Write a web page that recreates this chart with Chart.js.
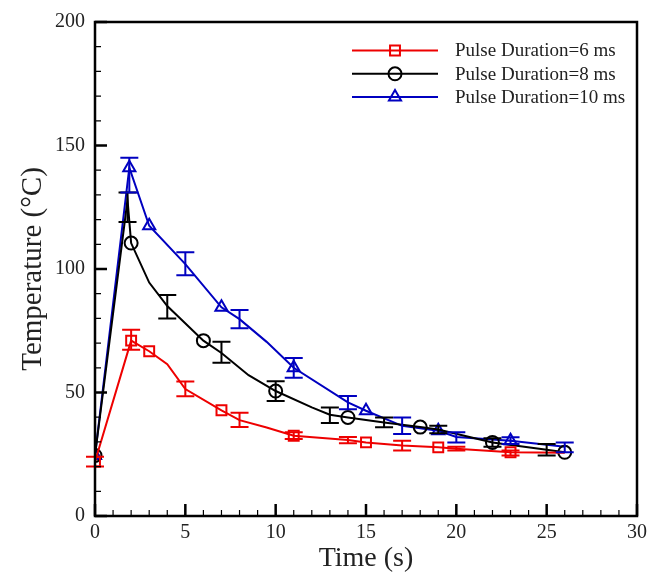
<!DOCTYPE html>
<html><head><meta charset="utf-8">
<script src="https://cdn.jsdelivr.net/npm/chart.js@4.4.0/dist/chart.umd.min.js"></script>
<style>html,body{margin:0;padding:0;background:#fff}#wrap{width:662px;height:575px}</style>
</head><body><div id="wrap"><canvas id="c" width="662" height="575"></canvas></div>
<script>
// ---- data ----
const seriesNames = ['Pulse Duration=6 ms', 'Pulse Duration=8 ms', 'Pulse Duration=10 ms'];
const xTicks = [0, 5, 10, 15, 20, 25, 30];
const yTicks = [0, 50, 100, 150, 200];

const redTime    = [0, 2, 3, 4, 5, 7, 8, 9.5, 11, 14, 15, 17, 19, 20, 23, 26];
const redTemp    = [22, 71, 66.7, 61.5, 51.4, 42.8, 38.8, 35.8, 32.5, 30.8, 29.8, 28.5, 27.8, 27.2, 25.8, 25.6];
const redErrLow  = [20, 67.3, null, null, 48.5, null, 36, null, 31.2, 29.5, null, 26.5, null, 26.5, 24.5, null];
const redErrHigh = [24, 75.4, null, null, 54.5, null, 41.8, null, 33.9, 32, null, 30.5, null, 28, 26.5, null];
const redMarkerTimes = [0, 2, 3, 7, 11, 15, 19, 23];

const blackTime    = [0, 1.8, 2, 3, 4, 6, 7, 8.5, 10, 12, 13, 14, 16, 18, 19, 22, 25, 26];
const blackTemp    = [24.5, 128, 110.5, 94.5, 85, 71, 66, 57, 50.6, 44, 41, 39.9, 37.9, 36, 35, 29.8, 26.8, 25.8];
const blackErrLow  = [null, 119, null, null, 80, null, 62, null, 46.6, null, 37.7, null, 35.9, null, 33.5, 28, 24.5, null];
const blackErrHigh = [null, 131, null, null, 89.5, null, 70.5, null, 54.6, null, 43.9, null, 39.9, null, 36.5, 31.5, 29.2, null];
const blackMarkerTimes = [0, 2, 6, 10, 14, 18, 22, 26];

const blueTime    = [0, 1.9, 3, 5, 7, 8, 9.5, 11, 14, 15, 17, 19, 20, 23, 26];
const blueTemp    = [24.5, 141, 117.5, 102, 84.5, 79.7, 70.5, 60, 46, 42.6, 36.5, 34.5, 32, 30.5, 28];
const blueErrLow  = [null, 131, null, 97.5, null, 76, null, 56, 43.2, null, 33.2, null, 29.8, 29.2, 25.8];
const blueErrHigh = [null, 145, null, 106.8, null, 83.4, null, 64, 48.6, null, 39.9, null, 33.9, 31.9, 29.8];
const blueMarkerTimes = [0, 1.9, 3, 7, 11, 15, 19, 23];

// ---- build ----
const FONT = 'Liberation Serif, Times New Roman, serif';
function makeSet(label, time, temp, lo, hi, markers, color, style, radius) {
  return {
    label: label,
    data: time.map((t, i) => ({x: t, y: temp[i]})),
    errLow: lo, errHigh: hi,
    borderColor: color, borderWidth: 2, fill: false,
    tension: 0,
    pointStyle: style,
    pointRadius: ctx => markers.includes(time[ctx.dataIndex]) ? radius : 0,
    pointHoverRadius: 0,
    pointBorderColor: color, pointBackgroundColor: 'rgba(0,0,0,0)', pointBorderWidth: 2,
    legendRadius: radius
  };
}
const datasets = [
  makeSet(seriesNames[0], redTime, redTemp, redErrLow, redErrHigh, redMarkerTimes, '#ee0000', 'rect', 7),
  makeSet(seriesNames[1], blackTime, blackTemp, blackErrLow, blackErrHigh, blackMarkerTimes, '#000000', 'circle', 6.5),
  makeSet(seriesNames[2], blueTime, blueTemp, blueErrLow, blueErrHigh, blueMarkerTimes, '#0000c0', 'triangle', 7)
];

const errorBars = {
  id: 'errorBars',
  afterDatasetsDraw(chart) {
    const ctx = chart.ctx, xs = chart.scales.x, ys = chart.scales.y;
    ctx.save();
    chart.data.datasets.forEach(ds => {
      ctx.strokeStyle = ds.borderColor; ctx.lineWidth = 2;
      ds.data.forEach((p, i) => {
        const lo = ds.errLow[i], hi = ds.errHigh[i];
        if (lo == null || hi == null) return;
        const xp = xs.getPixelForValue(p.x), yl = ys.getPixelForValue(lo), yh = ys.getPixelForValue(hi);
        ctx.beginPath();
        ctx.moveTo(xp, yl); ctx.lineTo(xp, yh);
        ctx.moveTo(xp - 9, yl); ctx.lineTo(xp + 9, yl);
        ctx.moveTo(xp - 9, yh); ctx.lineTo(xp + 9, yh);
        ctx.stroke();
      });
    });
    ctx.restore();
  }
};

const frame = {
  id: 'frame',
  afterDraw(chart) {
    const ctx = chart.ctx, a = chart.chartArea, xs = chart.scales.x, ys = chart.scales.y;
    ctx.save();
    ctx.strokeStyle = '#000';
    ctx.lineWidth = 1.2;
    ctx.beginPath();
    for (let v = xTicks[0]; v <= xTicks[xTicks.length - 1]; v += 1) {
      const p = xs.getPixelForValue(v);
      ctx.moveTo(p, a.bottom); ctx.lineTo(p, a.bottom - 6);
    }
    for (let v = yTicks[0]; v <= yTicks[yTicks.length - 1]; v += 10) {
      const p = ys.getPixelForValue(v);
      ctx.moveTo(a.left, p); ctx.lineTo(a.left + 6, p);
    }
    ctx.stroke();
    ctx.lineWidth = 2.5;
    ctx.beginPath();
    xTicks.forEach(v => { const p = xs.getPixelForValue(v); ctx.moveTo(p, a.bottom); ctx.lineTo(p, a.bottom - 12); });
    yTicks.forEach(v => { const p = ys.getPixelForValue(v); ctx.moveTo(a.left, p); ctx.lineTo(a.left + 12, p); });
    ctx.stroke();
    ctx.lineWidth = 2.5;
    ctx.strokeRect(a.left, a.top, a.right - a.left, a.bottom - a.top);

    ctx.font = '19px ' + FONT;
    ctx.textBaseline = 'middle';
    ctx.textAlign = 'left';
    chart.data.datasets.forEach((ds, i) => {
      const y = a.top + 28.5 + i * 23.3;
      const x0 = a.left + 257, x1 = a.left + 343, xm = (x0 + x1) / 2;
      ctx.strokeStyle = ds.borderColor; ctx.lineWidth = 2;
      ctx.beginPath(); ctx.moveTo(x0, y); ctx.lineTo(x1, y); ctx.stroke();
      ctx.fillStyle = 'rgba(0,0,0,0)';
      Chart.helpers.drawPoint(ctx, {pointStyle: ds.pointStyle, rotation: 0, radius: ds.legendRadius, borderWidth: 2}, xm, y);
      ctx.fillStyle = '#222';
      ctx.fillText(ds.label, a.left + 360, y + 1);
    });
    ctx.restore();
  }
};

new Chart(document.getElementById('c').getContext('2d'), {
  type: 'line',
  data: {datasets: datasets},
  plugins: [errorBars, frame],
  options: {
    responsive: false, animation: false,
    layout: {padding: {top: 18, right: 25, left: 0, bottom: 0}},
    plugins: {legend: {display: false}, tooltip: {enabled: false}},
    scales: {
      x: {
        type: 'linear', min: xTicks[0], max: xTicks[xTicks.length - 1], position: 'bottom',
        afterFit(s) { s.height = 59; },
        afterBuildTicks(s) { s.ticks = xTicks.map(v => ({value: v})); },
        grid: {display: false, drawTicks: false}, border: {display: false},
        ticks: {padding: 5, color: '#222', maxRotation: 0, autoSkip: false, font: {family: FONT, size: 20}},
        title: {display: true, text: 'Time (s)', color: '#222', font: {family: FONT, size: 28}, padding: {top: 0, bottom: 0}}
      },
      y: {
        type: 'linear', min: yTicks[0], max: yTicks[yTicks.length - 1],
        afterFit(s) { s.width = 95; },
        afterBuildTicks(s) { s.ticks = yTicks.map(v => ({value: v})); },
        grid: {display: false, drawTicks: false}, border: {display: false},
        ticks: {padding: 10, color: '#222', autoSkip: false, font: {family: FONT, size: 20}},
        title: {display: true, text: 'Temperature (°C)', color: '#222', font: {family: FONT, size: 29}, padding: {top: 16, bottom: 0}}
      }
    }
  }
});
</script></body></html>
